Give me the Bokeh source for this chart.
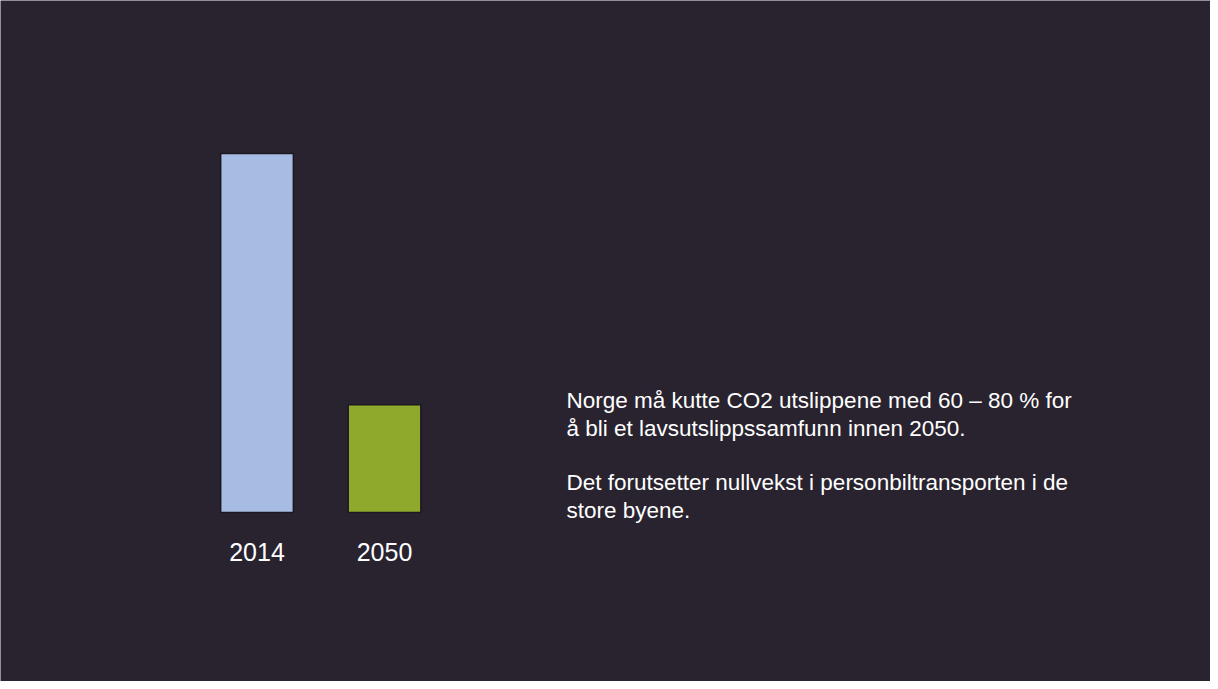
from bokeh.plotting import figure
from bokeh.models import Range1d, Label, ColumnDataSource
from bokeh.core.properties import value
from bokeh.embed import file_html
from bokeh.resources import INLINE

# data
years = ["2014", "2050"]
emissions = [100, 30]          # relative CO2 emissions (2014 = 100)
bar_colors = ["#a7bce2", "#8ea92b"]
note_lines = [
    "Norge må kutte CO2 utslippene med 60 – 80 % for",
    "å bli et lavsutslippssamfunn innen 2050.",
    "",
    "Det forutsetter nullvekst i personbiltransporten i de",
    "store byene.",
]

BG = "#29232f"
W, H = 1210, 681

xs = [1, 2]
src = ColumnDataSource(dict(x=xs, top=emissions, color=bar_colors, label=years,
                            ly=[-10.9] * len(xs)))

p = figure(width=W, height=H, output_backend="svg", toolbar_location=None,
           x_range=Range1d(-1.0118, 8.478), y_range=Range1d(-47.08, 142.62),
           min_border=0, background_fill_color=BG, border_fill_color=BG)
p.axis.visible = False
p.grid.visible = False
p.outline_line_color = None

p.vbar(x="x", top="top", bottom=0, width=0.57, fill_color="color",
       line_color="#1c1822", line_width=1.5, source=src)

p.text(x="x", y="ly", text="label", source=src, text_color="white",
       text_font=value("Liberation Sans"), text_font_size="25px",
       text_align="center", text_baseline="alphabetic")

baselines = [281, 253, 0, 199, 171]
for line, yb in zip(note_lines, baselines):
    if not line:
        continue
    p.add_layout(Label(x=566, y=yb, x_units="screen", y_units="screen", text=line,
                       text_color="white", text_font="Liberation Sans",
                       text_font_size="22.5px", text_baseline="alphabetic"))

open("out.html", "w").write(file_html(p, INLINE))
